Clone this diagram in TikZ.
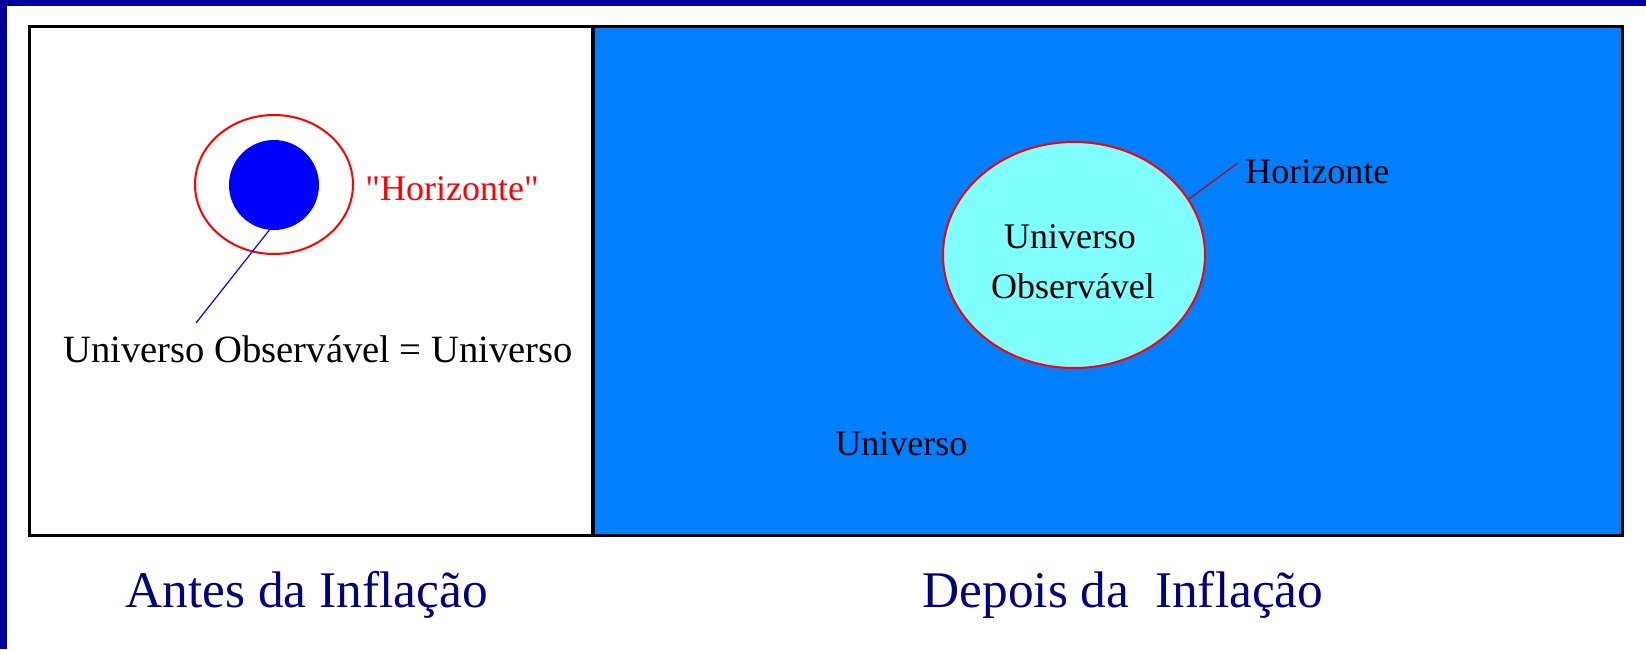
\documentclass[tikz,border=0pt]{standalone}
\usepackage{fontspec}
\setmainfont{Liberation Serif}[Ligatures=TeXOff]
\usepackage{tikz}
\usetikzlibrary{shapes.geometric, positioning, calc}
\definecolor{frameblue}{RGB}{0,0,153}
\definecolor{captionblue}{RGB}{0,0,128}
\definecolor{skyfill}{RGB}{0,128,255}
\definecolor{cyanfill}{RGB}{128,255,255}
\tikzset{
    panel/.style={draw=black, line width=1.5pt},
    horizon/.style={ellipse, draw=red, line width=1pt, inner sep=0pt},
    label/.style={font=\fontsize{18}{20}\selectfont, inner sep=0pt},
    caption/.style={font=\fontsize{25.7}{28}\selectfont, text=captionblue, inner sep=0pt, anchor=base west}
}

\begin{document}
\begin{tikzpicture}[x=0.5pt, y=-0.5pt]
        \useasboundingbox (0,0) rectangle (1646,649);
        % Slide border
        \fill[frameblue] (0,0) rectangle (7,649);
        \fill[frameblue] (0,0) rectangle (1646,6);

        % Panels
        \fill[skyfill] (593,26) rectangle (1622,535);
        \draw[panel] (29,26) rectangle (1622,535);
        \draw[black, line width=2pt] (593,26) -- (593,535);

        % Before inflation
        \node (hzleft) at (274,184.5) [horizon, minimum width=79pt, minimum height=69.5pt] {};
        \node (obsdisk) at (274,185) [circle, fill=blue, inner sep=0pt, minimum size=45pt] {};
        \node (hzlabel) at (365,200) [label, anchor=base west, text=red] {"Horizonte"};
        \node (obsleft) at (63,362) [label, anchor=base west, font=\fontsize{19.3}{21}\selectfont] {Universo Observável = Universo};
        \coordinate (obstip) at (196,323);
        \draw[blue, line width=0.6pt] (obsdisk.-96) -- (obstip);

        % After inflation
        \node (hzright) at (1074,255) [horizon, fill=cyanfill, minimum width=131pt, minimum height=113pt] {};
        \node (obsright) at (1070,248) [label, anchor=base] {Universo};
        \node (obsright2) at (1073,298) [label, anchor=base] {Observável};
        \node (hzname) at (1245,183) [label, anchor=base west] {Horizonte};
        \coordinate (hztip) at (1238,163);
        \draw[red!80!black, line width=0.6pt] (hzright.26) -- (hztip);
        \node (universe) at (835,455) [label, anchor=base west] {Universo};

        % Captions
        \node (before) at (125,607) [caption] {Antes da Inflação};
        \node (after) at (922,607) [caption] {Depois da\ \ Inflação};
\end{tikzpicture}
\end{document}
